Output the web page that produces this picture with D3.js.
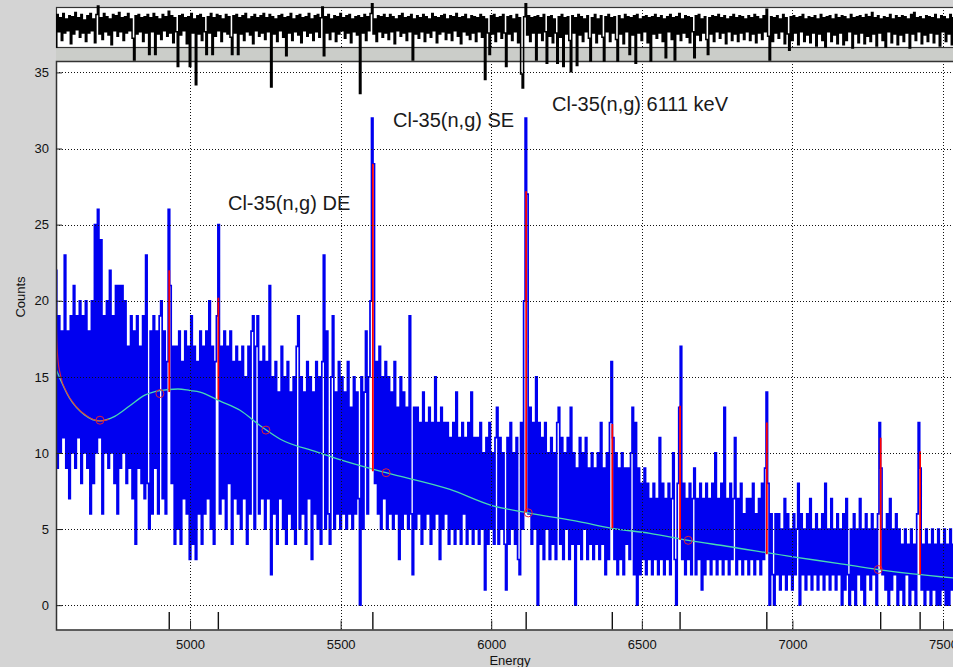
<!DOCTYPE html>
<html><head><meta charset="utf-8">
<script src="https://cdn.jsdelivr.net/npm/d3@7"></script>
<style>
html,body{margin:0;padding:0;background:#d4d4d4;}
svg{display:block;font-family:"Liberation Sans",Arial,sans-serif;}
</style>
</head><body>
<svg id="chart" width="953" height="667"></svg>
<script>
// ---- data ----
const startEnergy = 4555;      // keV, first channel
const channelWidth = 5;        // keV per channel
const counts = [
22,9,19,10,18,11,23,9,18,7,19,10,21,9,19,11,20,8,19,10,
20,9,18,6,20,8,25,10,26,11,24,6,19,10,20,9,22,10,19,8,
21,6,21,9,21,10,20,8,17,9,19,7,18,4,19,9,17,8,19,7,
23,8,5,18,6,19,9,18,6,19,20,7,18,6,16,26,21,8,17,4,
17,5,18,4,16,7,18,6,17,3,19,4,17,3,16,6,18,4,17,6,
18,7,20,5,17,4,16,19,25,6,17,7,18,5,17,8,18,4,16,7,
17,6,16,5,17,7,15,4,17,6,18,19,5,17,19,6,16,7,17,5,
16,7,21,2,15,6,16,4,14,7,17,5,15,4,16,6,14,5,15,4,
17,19,5,15,6,14,4,16,7,15,3,14,6,16,5,15,4,16,23,5,
18,6,4,15,19,5,14,6,16,5,15,6,14,5,16,6,13,5,15,6,
14,7,0,15,5,14,18,6,15,20,32,29,8,16,6,17,5,15,7,16,
5,15,6,14,5,16,6,13,3,15,5,14,6,13,5,19,6,2,13,5,
13,6,12,4,14,5,12,6,13,4,12,5,15,6,12,3,13,5,12,6,
12,4,11,5,12,4,14,5,11,4,12,6,11,4,12,5,14,4,11,5,
11,4,12,5,10,1,11,4,12,5,10,4,11,13,4,11,5,10,4,1,
11,4,12,5,10,4,11,3,2,12,5,20,32,27,6,13,4,12,5,15,
0,12,4,11,3,12,5,10,3,11,4,10,3,12,13,4,11,3,10,5,
11,3,13,4,10,0,9,4,11,3,10,5,11,3,9,4,10,3,9,4,
10,3,12,4,9,2,10,3,12,16,11,3,10,2,9,3,10,2,9,4,
9,3,10,13,2,12,0,9,2,8,3,9,2,8,3,7,2,8,3,7,
2,11,3,8,2,7,3,8,2,7,10,3,0,8,13,17,3,8,2,7,
3,8,2,7,9,2,7,3,8,1,7,2,8,3,7,2,8,3,10,2,
7,3,8,2,13,3,7,2,8,3,7,11,2,7,3,8,2,6,3,7,
2,7,3,8,2,6,3,7,2,8,3,9,14,8,0,6,2,0,6,2,
6,1,5,2,7,1,6,2,5,1,6,2,5,8,0,6,2,5,1,6,
2,7,1,5,2,6,1,5,2,6,1,8,2,5,1,7,2,5,1,6,
2,5,0,6,1,7,2,0,5,1,6,0,5,2,7,1,5,0,6,2,
5,1,6,2,5,0,6,12,9,2,5,1,6,0,7,1,5,2,6,0,
5,1,4,0,5,2,4,0,5,1,4,0,6,12,9,1,4,0,5,1,
4,0,5,1,4,0,5,0,4,1,5,0,4,0,5,1,4,0,3,1
];

const residualStart = 4555;    // keV
const residualWidth = 5;       // keV per residual bin
const residuals = [
-1.8,1.2,-0.4,0.9,-1.2,1.3,-0.5,0.8,-0.3,1.1,-1.5,1.0,-0.6,1.4,-0.2,0.9,-0.9,1.2,-0.5,0.7,
-1.3,1.1,-0.5,1.3,-0.3,0.8,-1.4,1.2,2.0,-0.6,0.9,-1.1,1.3,-0.4,1.0,-0.7,0.8,-1.6,1.2,-0.3,
1.1,-0.8,1.4,-0.4,0.9,-1.2,1.0,-0.5,1.3,-0.3,0.8,-1.0,-3.0,1.1,-0.6,1.2,-0.4,0.9,-1.3,1.0,
-0.5,1.2,-2.5,0.9,-0.4,1.3,-2.5,1.0,-0.6,0.8,-1.1,1.2,-0.3,1.0,-0.8,1.5,-0.5,1.1,-1.4,0.9,
-0.4,-3.6,1.1,-0.7,1.2,-0.3,0.9,-1.5,1.0,-3.6,1.3,-0.5,0.8,-5.3,1.1,-0.6,1.2,-1.2,0.9,-0.4,
-2.5,1.0,-0.5,1.3,-2.5,0.9,-0.8,1.2,-0.3,1.1,-1.3,0.8,-0.4,1.2,-0.6,1.0,-0.9,-2.5,1.1,-0.5,
1.2,-2.5,0.9,-0.6,1.1,-1.2,1.3,-0.4,0.8,-0.7,1.0,-1.5,1.2,-0.3,0.9,-0.8,1.1,-0.5,1.3,-1.1,
0.9,-0.4,1.2,-5.5,1.0,-0.6,0.8,-1.3,1.1,-0.3,1.2,-0.9,0.9,-2.6,1.0,-0.5,1.3,-1.2,0.8,-0.4,
1.1,-0.7,1.2,-1.4,0.9,-0.3,1.0,-0.8,1.3,-0.5,0.8,-1.2,1.1,-0.4,1.2,-0.9,0.9,1.9,-2.6,1.0,
-0.5,1.2,-1.1,0.8,-0.4,1.1,-1.3,1.0,-0.6,1.3,-0.3,0.9,-1.0,1.1,-0.5,1.2,-1.4,0.8,-0.4,1.0,
-0.7,1.1,-6.1,0.9,-0.5,1.2,-1.2,1.0,-0.3,1.3,2.2,-0.6,0.8,-1.3,1.1,-0.4,1.0,-0.9,1.2,-0.5,
0.9,-1.1,1.2,-0.4,1.0,-1.5,0.8,-0.3,1.1,-0.8,1.3,-0.5,0.9,-1.2,1.0,-0.4,1.2,-3.0,0.8,-0.6,
1.1,-1.0,0.9,-0.4,1.2,-1.3,1.0,-0.5,0.8,-0.9,1.3,-0.3,1.0,-1.4,0.9,-0.6,1.1,-0.4,1.2,-1.1,
0.8,-0.5,1.1,-1.2,1.0,-0.3,1.3,-0.8,0.9,-1.5,1.0,-0.4,1.2,-0.7,0.8,-1.1,1.1,-0.5,1.0,-1.3,
0.9,-0.4,1.2,-0.9,1.0,-4.8,0.8,-0.5,-2.5,1.1,-0.6,1.2,-1.3,0.9,-0.4,1.0,-1.0,1.2,-0.5,-3.6,
1.0,-0.6,1.1,-1.2,0.8,-0.4,1.2,-1.4,0.9,-4.3,-5.6,1.0,2.2,-0.7,1.1,-1.3,0.9,-0.5,1.0,-3.0,
1.1,-0.5,0.9,-1.2,1.2,-0.4,-3.3,1.0,-0.8,1.1,-1.4,0.8,-0.5,-3.3,1.0,-0.9,1.2,-3.6,0.9,-0.6,
1.0,-1.2,-4.1,1.1,-0.5,0.9,-3.5,1.2,-0.7,1.0,-1.3,0.8,-0.4,1.1,-1.0,-3.1,0.9,-0.5,1.2,-1.4,
0.8,-0.6,1.1,-0.9,-3.1,1.0,-0.4,1.2,-1.3,0.9,-0.5,1.0,-1.1,-3.1,1.1,-0.6,0.8,-1.5,1.2,-0.4,
1.0,-2.5,0.9,-0.7,1.1,-3.3,1.2,-0.5,0.8,-1.2,1.0,-0.4,1.1,-1.4,0.9,-3.1,1.0,-0.6,1.2,-1.0,
0.9,-0.5,1.1,-1.3,0.8,-2.8,1.0,-0.4,1.2,-1.1,0.9,-3.0,1.0,-0.6,1.3,-1.2,0.8,-0.5,1.1,-0.9,
1.0,-1.4,0.9,-0.4,-2.8,1.1,-0.7,1.2,-1.2,0.8,-0.5,1.0,-1.1,-2.5,0.9,-0.6,1.1,-1.3,1.0,-0.4,
1.2,-1.0,0.9,-0.5,1.1,-1.5,0.8,-0.4,1.0,-1.2,1.2,-0.6,0.9,-1.3,1.1,-0.5,1.0,-1.1,0.8,-0.4,
1.1,-1.2,0.9,-0.6,1.2,-1.4,1.0,-0.5,0.8,-1.1,1.1,-0.4,1.7,-0.8,-3.0,1.0,-1.3,0.9,-0.5,1.1,
-1.0,0.8,-0.4,1.2,-1.5,0.9,-0.6,-2.1,1.0,-1.2,1.1,-0.5,0.9,-1.6,1.0,-0.4,1.2,-1.3,0.8,-0.7,
1.0,-1.4,0.9,-0.5,1.1,-1.7,0.8,-0.6,1.2,-1.2,0.9,-1.8,1.0,-0.4,1.1,-1.3,0.8,-0.7,1.2,-1.5,
0.9,-0.5,1.1,-1.6,1.0,-1.2,0.8,-0.4,1.2,-1.9,0.9,-0.6,1.0,-1.4,1.1,-0.5,0.9,-1.5,1.2,-0.8,
1.0,-1.3,1.4,-0.6,0.9,-1.7,1.1,-0.5,0.8,-1.2,1.0,-1.8,0.9,-0.4,1.2,-1.4,0.8,-0.6,1.1,-1.6,
0.9,-0.7,1.1,-1.3,1.0,-0.5,0.8,-1.9,1.2,-0.6,1.4,-1.2,0.9,-0.4,1.0,-1.5,0.8,-0.7,1.1,-1.3,
1.0,-0.5,0.9,-1.4,1.2,-0.6,0.8,-1.7,1.1,-0.4,1.0,-1.3,0.8,-0.6,1.2,-1.6,0.9,-0.5,1.0,-1.2
];

// background (continuum) curve
const bgEnergy = [4555,4600,4650,4700,4750,4800,4850,4900,4960,5000,5033,5100,5166,5232,5300,5420,5500,5651,5863,6000,6123,6295,6400,6527,6654,6782,7002,7150,7285,7400,7570];
const bgCounts = [15.5,13.6,12.5,12.1,12.4,13.1,13.8,14.1,14.2,14.1,14.0,13.4,12.8,11.8,10.9,10.07,9.55,8.7,7.6,6.56,6.06,5.47,5.05,4.72,4.26,3.87,3.17,2.75,2.34,2.05,1.72];
// total fit near the left edge (tail of a peak below the range)
const fitEnergy = [4555,4557,4561,4570,4590,4620,4660,4700,4730];
const fitCounts = [20.0,17.8,16.2,15.1,14.0,13.1,12.4,12.1,12.2];
// background anchor points (red circles)
const anchorEnergy = [4701,4900,5252,5651,6123,6654,7285];
const anchorCounts = [12.15,13.9,11.5,8.7,6.06,4.26,2.34];
// fitted peaks
const peakEnergy = [4931,5094,5607,6116,6402,6627,6915,7293,7424];
const peakTop    = [22.0,20.2,29.0,27.2,11.9,13.1,12.0,11.0,10.1];
const peakBase   = [14.0,13.5,8.8,6.1,5.05,4.3,3.35,2.35,2.0];
// annotations
const labelText   = ["Cl-35(n,g) DE","Cl-35(n,g) SE","Cl-35(n,g) 6111 keV"];
const labelEnergy = [5126,5674,6202];
const labelCount  = [25.95,31.4,32.45];
// ticks
const xTicks = [5000,5500,6000,6500,7000,7500];
const yTicks = [0,5,10,15,20,25,30,35];

// ---- drawing ----
const svg = d3.select("#chart");
const L = 56, R = 964.1, mainTop = 61, mainBot = 629.5, resTop = 7, resBot = 47;
const x = d3.scaleLinear().domain([4555, 7570]).range([L, R]);
const y = d3.scaleLinear().domain([-1.6, 35.75]).range([mainBot, mainTop]);
const yr = d3.scaleLinear().domain([-1.8, 1.9]).range([resBot, resTop]);

svg.append("rect").attr("width",953).attr("height",667).attr("fill","#d4d4d4");
// band between panels
svg.append("rect").attr("x",L).attr("y",resBot).attr("width",R-L).attr("height",mainTop-resBot).attr("fill","#cbcdc9");
// axes backgrounds
svg.append("rect").attr("x",L).attr("y",resTop).attr("width",R-L).attr("height",resBot-resTop).attr("fill","#fff");
svg.append("rect").attr("x",L).attr("y",mainTop).attr("width",R-L).attr("height",mainBot-mainTop).attr("fill","#fff");

svg.append("defs").append("clipPath").attr("id","mainClip")
  .append("rect").attr("x",L).attr("y",mainTop).attr("width",R-L).attr("height",mainBot-mainTop);

const plot = svg.append("g").attr("clip-path","url(#mainClip)");

// spectrum
const specLine = d3.line()
  .x((d,i)=>x(startEnergy + i*channelWidth))
  .y(d=>y(d))
  .curve(d3.curveStep);
plot.append("path").datum(counts).attr("d",specLine)
  .attr("fill","none").attr("stroke","#0000f0").attr("stroke-width",1.7);

// background curve
const bgData = bgEnergy.map((e,i)=>[e,bgCounts[i]]);
plot.append("path").datum(bgData)
  .attr("d", d3.line().x(d=>x(d[0])).y(d=>y(d[1])).curve(d3.curveMonotoneX))
  .attr("fill","none").attr("stroke","#48d8b4").attr("stroke-width",1.3);

// left fit tail
const fitData = fitEnergy.map((e,i)=>[e,fitCounts[i]]);
plot.append("path").datum(fitData)
  .attr("d", d3.line().x(d=>x(d[0])).y(d=>y(d[1])).curve(d3.curveMonotoneX))
  .attr("fill","none").attr("stroke","#ff2020").attr("stroke-width",1.2).attr("opacity",0.8);

// peaks
plot.selectAll("line.peak").data(peakEnergy).join("line").attr("class","peak")
  .attr("x1",d=>x(d)).attr("x2",d=>x(d))
  .attr("y1",(d,i)=>y(peakBase[i])).attr("y2",(d,i)=>y(peakTop[i]))
  .attr("stroke","#ff0000").attr("stroke-width",1.8);

// anchor circles
plot.selectAll("circle.anchor").data(anchorEnergy).join("circle").attr("class","anchor")
  .attr("cx",d=>x(d)).attr("cy",(d,i)=>y(anchorCounts[i])).attr("r",4)
  .attr("fill","none").attr("stroke","#e0203a").attr("stroke-width",1);

// grid (dotted, on top)
const grid = svg.append("g").attr("stroke","#111").attr("stroke-width",1)
  .attr("stroke-dasharray","1,2").attr("shape-rendering","crispEdges");
grid.selectAll("line.gx").data(xTicks).join("line")
  .attr("x1",d=>Math.round(x(d))+0.5).attr("x2",d=>Math.round(x(d))+0.5)
  .attr("y1",mainTop).attr("y2",mainBot);
grid.selectAll("line.gxr").data(xTicks).join("line")
  .attr("x1",d=>Math.round(x(d))+0.5).attr("x2",d=>Math.round(x(d))+0.5)
  .attr("y1",resTop).attr("y2",resBot);
grid.selectAll("line.gy").data(yTicks).join("line")
  .attr("x1",L).attr("x2",R)
  .attr("y1",d=>Math.round(y(d))+0.5).attr("y2",d=>Math.round(y(d))+0.5);

// peak markers at bottom
svg.selectAll("line.pm").data(peakEnergy).join("line").attr("class","pm")
  .attr("x1",d=>x(d)).attr("x2",d=>x(d)).attr("y1",612).attr("y2",mainBot)
  .attr("stroke","#111").attr("stroke-width",1.4);

// frames
svg.append("rect").attr("x",L+0.5).attr("y",resTop+0.5).attr("width",R-L).attr("height",resBot-resTop)
  .attr("fill","none").attr("stroke","#333").attr("stroke-width",1.2);
svg.append("rect").attr("x",L+0.5).attr("y",mainTop+0.5).attr("width",R-L).attr("height",mainBot-mainTop)
  .attr("fill","none").attr("stroke","#333").attr("stroke-width",1.5);

// residuals (not clipped)
const resLine = d3.line()
  .x((d,i)=>x(residualStart + i*residualWidth))
  .y(d=>yr(d))
  .curve(d3.curveStep);
svg.append("path").datum(residuals).attr("d",resLine)
  .attr("fill","none").attr("stroke","#000").attr("stroke-width",1.5);

// axes
const xAxis = d3.axisBottom(x).tickValues(xTicks).tickFormat(d3.format("d"))
  .tickSizeInner(-9).tickSizeOuter(0).tickPadding(10);
const gx = svg.append("g").attr("transform",`translate(0,${mainBot})`).call(xAxis);
gx.select(".domain").remove();
gx.selectAll("line").attr("stroke","#222");
gx.selectAll("text").attr("font-size",13).attr("fill","#111").attr("font-family","Liberation Sans, Arial, sans-serif");

const yAxis = d3.axisLeft(y).tickValues(yTicks)
  .tickSizeInner(-6).tickSizeOuter(0).tickPadding(7);
const gy = svg.append("g").attr("transform",`translate(${L},0)`).call(yAxis);
gy.select(".domain").remove();
gy.selectAll("line").attr("stroke","#222");
gy.selectAll("text").attr("font-size",13).attr("fill","#111").attr("font-family","Liberation Sans, Arial, sans-serif");

// axis titles
svg.append("text").attr("x",510).attr("y",664.5).attr("text-anchor","middle")
  .attr("font-size",13).attr("fill","#111").text("Energy");
svg.append("text").attr("transform","translate(25,297) rotate(-90)").attr("text-anchor","middle")
  .attr("font-size",13).attr("fill","#111").text("Counts");

// annotations
svg.selectAll("text.lab").data(labelText).join("text").attr("class","lab")
  .attr("x",(d,i)=>x(labelEnergy[i])).attr("y",(d,i)=>y(labelCount[i]))
  .attr("font-size",20).attr("fill","#1a1a1a").text(d=>d);
</script>
</body></html>
